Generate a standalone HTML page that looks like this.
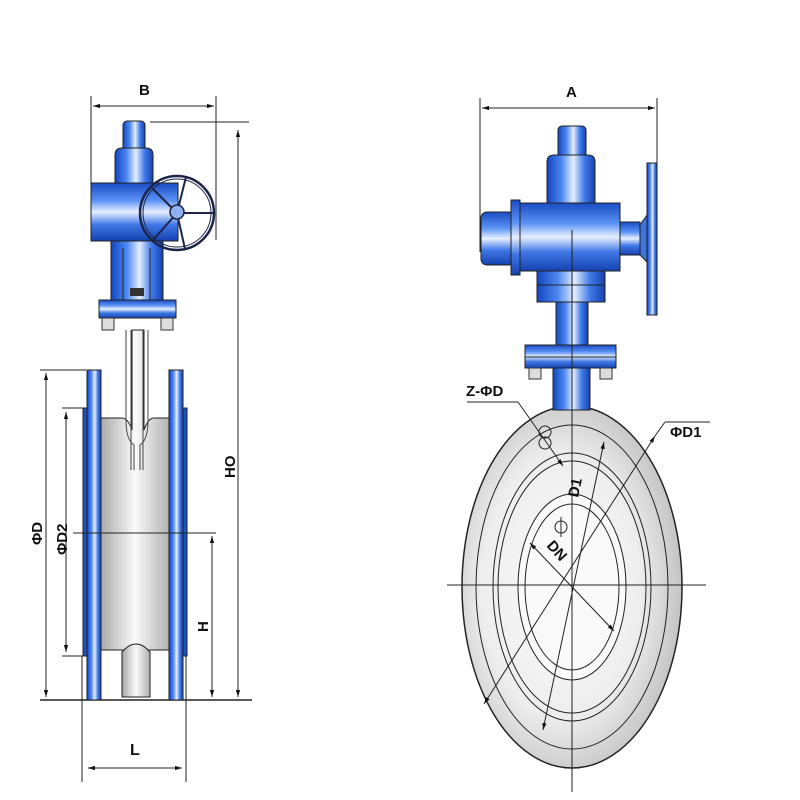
<!DOCTYPE html>
<html><head><meta charset="utf-8"><style>html,body{margin:0;padding:0;background:#fff}svg{display:block}</style></head>
<body>
<svg width="800" height="800" viewBox="0 0 800 800" xmlns="http://www.w3.org/2000/svg" font-family="Liberation Sans, sans-serif">
<defs>
<linearGradient id="bh" x1="0" x2="1" y1="0" y2="0"><stop offset="0" stop-color="#1446c0"/><stop offset=".3" stop-color="#4a86f0"/><stop offset=".55" stop-color="#e4eeff"/><stop offset=".78" stop-color="#3f7ae8"/><stop offset="1" stop-color="#1442b0"/></linearGradient>
<linearGradient id="bv" x1="0" x2="0" y1="0" y2="1"><stop offset="0" stop-color="#1a4cc4"/><stop offset=".3" stop-color="#5a92f4"/><stop offset=".5" stop-color="#e8f0ff"/><stop offset=".72" stop-color="#4078e6"/><stop offset="1" stop-color="#1442b0"/></linearGradient>
<linearGradient id="gh" x1="0" x2="1"><stop offset="0" stop-color="#a8a8a8"/><stop offset=".5" stop-color="#fafafa"/><stop offset="1" stop-color="#b0b0b0"/></linearGradient>
<radialGradient id="gr" cx=".45" cy=".5" r=".6"><stop offset="0" stop-color="#fbfbfb"/><stop offset=".6" stop-color="#eeeeee"/><stop offset="1" stop-color="#b8b8b8"/></radialGradient>
<marker id="a" viewBox="0 0 10 10" refX="10" refY="5" markerWidth="7" markerHeight="7" orient="auto-start-reverse"><path d="M0,2 L10,5 L0,8 z" fill="#111"/></marker>
</defs>
<g stroke="#222" stroke-width="1" fill="none">
<line x1="91" y1="96" x2="91" y2="240"/><line x1="216" y1="96" x2="216" y2="240"/>
<line x1="93" y1="106" x2="214" y2="106" marker-start="url(#a)" marker-end="url(#a)"/>
<line x1="150" y1="122" x2="249" y2="122"/>
<line x1="238" y1="130" x2="238" y2="697" marker-start="url(#a)" marker-end="url(#a)"/>
<line x1="40" y1="700" x2="252" y2="700" stroke-width="1.5"/>
<line x1="40" y1="370" x2="86" y2="370"/>
<line x1="62" y1="408" x2="84" y2="408"/>
<line x1="62" y1="656" x2="84" y2="656"/>
<line x1="46" y1="373" x2="46" y2="697" marker-start="url(#a)" marker-end="url(#a)"/>
<line x1="66" y1="412" x2="66" y2="652" marker-start="url(#a)" marker-end="url(#a)"/>
<line x1="212" y1="536" x2="212" y2="697" marker-start="url(#a)" marker-end="url(#a)"/>
<line x1="82" y1="656" x2="82" y2="782"/><line x1="186" y1="656" x2="186" y2="782"/>
<line x1="88" y1="768" x2="182" y2="768" marker-start="url(#a)" marker-end="url(#a)"/>
</g>
<path d="M100 418 H122 Q128 418 132 430 V330 H144 V430 Q148 418 154 418 H170 V650 H100 Z" fill="url(#gh)" stroke="#222"/>
<path d="M122 697 V652 Q136 636 150 652 V697 Z" fill="url(#gh)" stroke="#222"/>
<path d="M126 330 V420 Q126 440 134 445 V470 M148 330 V420 Q148 440 140 445 V470 M131 330 V470 M143 330 V470" stroke="#444" fill="none"/>
<rect x="83" y="408" width="6" height="248" fill="#1a52c8" stroke="#222"/>
<rect x="181" y="408" width="6" height="248" fill="#1a52c8" stroke="#222"/>
<rect x="87" y="370" width="14" height="330" fill="url(#bh)" stroke="#222"/>
<rect x="169" y="370" width="14" height="330" fill="url(#bh)" stroke="#222"/>
<line x1="73" y1="533" x2="216" y2="533" stroke="#222"/>
<rect x="123" y="121" width="22" height="32" rx="4" fill="url(#bh)" stroke="#222"/>
<path d="M115 190 V155 Q115 148 122 148 H146 Q153 148 153 155 V190 Z" fill="url(#bh)" stroke="#222"/>
<rect x="91" y="183" width="87" height="58" fill="url(#bv)" stroke="#222"/>
<rect x="111" y="241" width="52" height="60" fill="url(#bh)" stroke="#222"/>
<line x1="123" y1="248" x2="123" y2="300" stroke="#222"/><line x1="150" y1="248" x2="150" y2="300" stroke="#222"/>
<rect x="130" y="288" width="14" height="8" fill="#333"/>
<rect x="99" y="300" width="77" height="18" fill="url(#bv)" stroke="#222"/>
<rect x="102" y="318" width="12" height="12" fill="#ddd" stroke="#333"/><rect x="161" y="318" width="12" height="12" fill="#ddd" stroke="#333"/>
<g fill="none" stroke="#1c2448" stroke-width="2">
<circle cx="177" cy="213" r="37" stroke-width="2.5"/>
<circle cx="177" cy="213" r="34" stroke-width="1"/>
<line x1="177" y1="213" x2="186" y2="177"/><line x1="177" y1="213" x2="213" y2="213"/><line x1="177" y1="213" x2="185" y2="249"/><line x1="177" y1="213" x2="153" y2="240"/><line x1="177" y1="213" x2="152" y2="188"/>
</g>
<circle cx="177" cy="212" r="7" fill="#8fb0ee" stroke="#1c2448" stroke-width="1.5"/>
<g stroke="#222" fill="none">
<line x1="480" y1="98" x2="480" y2="252"/><line x1="657" y1="98" x2="657" y2="215"/>
<line x1="482" y1="108" x2="655" y2="108" marker-start="url(#a)" marker-end="url(#a)"/>
</g>
<ellipse cx="572" cy="587" rx="110" ry="181" fill="url(#gr)" stroke="#222" stroke-width="1.5"/>
<g fill="none" stroke="#222">
<ellipse cx="572" cy="587" rx="96" ry="162"/>
<ellipse cx="572" cy="587" rx="79" ry="134"/>
<ellipse cx="572" cy="587" rx="74" ry="126"/>
<ellipse cx="572" cy="587" rx="54" ry="93" fill="#fafafa"/>
<ellipse cx="572" cy="587" rx="47" ry="83"/>
<line x1="447" y1="585" x2="706" y2="585"/>
<line x1="572" y1="230" x2="572" y2="792"/>
<line x1="484" y1="704" x2="655" y2="436" marker-start="url(#a)" marker-end="url(#a)"/>
<line x1="655" y1="436" x2="665" y2="422"/><line x1="665" y1="422" x2="710" y2="422"/>
<line x1="543" y1="730" x2="604" y2="442" marker-start="url(#a)" marker-end="url(#a)"/>
<line x1="530" y1="543" x2="614" y2="631" marker-start="url(#a)" marker-end="url(#a)"/>
<line x1="467" y1="402" x2="518" y2="402"/><line x1="518" y1="402" x2="563" y2="466" marker-end="url(#a)"/>
<circle cx="545" cy="432" r="6"/><circle cx="545" cy="443" r="6"/>
<circle cx="561" cy="527" r="6"/><line x1="561" y1="517" x2="561" y2="537"/>
</g>
<rect x="553" y="365" width="37" height="45" fill="url(#bh)" stroke="#222"/>
<rect x="556" y="300" width="32" height="48" fill="url(#bh)" stroke="#222"/>
<rect x="525" y="345" width="91" height="23" fill="url(#bv)" stroke="#222"/>
<line x1="525" y1="357" x2="616" y2="357" stroke="#222"/>
<rect x="529" y="368" width="12" height="11" fill="#ddd" stroke="#333"/><rect x="600" y="368" width="12" height="11" fill="#ddd" stroke="#333"/>
<rect x="537" y="270" width="68" height="32" fill="url(#bh)" stroke="#222"/>
<line x1="537" y1="285" x2="605" y2="285" stroke="#222"/>
<rect x="558" y="126" width="28" height="32" rx="4" fill="url(#bh)" stroke="#222"/>
<path d="M547 205 V162 Q547 155 554 155 H588 Q595 155 595 162 V205 Z" fill="url(#bh)" stroke="#222"/>
<rect x="520" y="203" width="100" height="68" fill="url(#bv)" stroke="#222"/>
<rect x="481" y="212" width="34" height="53" rx="6" fill="url(#bv)" stroke="#222"/>
<rect x="511" y="200" width="9" height="75" fill="url(#bv)" stroke="#222"/>
<rect x="620" y="222" width="20" height="33" fill="url(#bv)" stroke="#222"/>
<rect x="647" y="163" width="10" height="152" fill="url(#bh)" stroke="#222"/>
<path d="M640 225 L647 215 V262 L640 255 Z" fill="#3d74e0" stroke="#222"/>
<line x1="572" y1="230" x2="572" y2="410" stroke="#222"/>
<g fill="#111" font-size="15" font-weight="bold">
<text x="139" y="95">B</text>
<text x="566" y="97">A</text>
<text x="130" y="755" font-size="16">L</text>
<text transform="translate(235,478) rotate(-90)">HO</text>
<text transform="translate(208,632) rotate(-90)">H</text>
<text transform="translate(42,545) rotate(-90)">ΦD</text>
<text transform="translate(67,555) rotate(-90)">ΦD2</text>
<text x="466" y="396">Z-ΦD</text>
<text x="670" y="437">ΦD1</text>
<text transform="translate(578,498) rotate(-78)">D1</text>
<text transform="translate(546,546) rotate(48)">DN</text>
</g>
</svg>
</body></html>
